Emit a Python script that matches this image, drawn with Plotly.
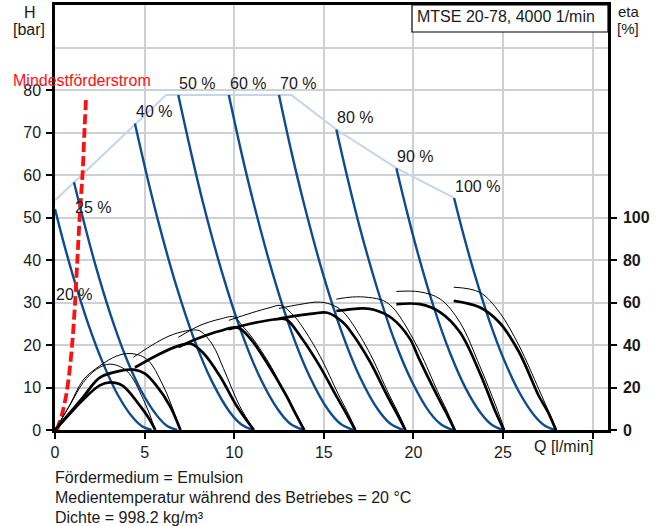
import plotly.graph_objects as go

# ---------------- data ----------------
labels = ["20 %", "25 %", "40 %", "50 %", "60 %", "70 %", "80 %", "90 %", "100 %"]

# H-Q curves  (Q in l/min, H in bar)
head_q = [
    [0.00, 0.54, 1.08, 1.89, 2.70, 3.50, 4.31, 4.85, 5.39],
    [1.06, 1.64, 2.21, 3.08, 3.94, 4.80, 5.67, 6.24, 6.82],
    [4.46, 5.12, 5.78, 6.77, 7.76, 8.75, 9.74, 10.40, 11.06],
    [6.88, 7.58, 8.27, 9.32, 10.37, 11.41, 12.46, 13.15, 13.85],
    [9.70, 10.39, 11.09, 12.13, 13.17, 14.21, 15.25, 15.95, 16.64],
    [12.50, 13.19, 13.89, 14.93, 15.97, 17.00, 18.04, 18.74, 19.43],
    [15.70, 16.35, 17.00, 17.98, 18.95, 19.93, 20.90, 21.55, 22.20],
    [19.05, 19.65, 20.24, 21.13, 22.03, 22.92, 23.81, 24.41, 25.00],
    [22.27, 22.83, 23.40, 24.24, 25.09, 25.93, 26.77, 27.34, 27.90],
]
head_h = [
    [52.0, 43.2, 35.2, 24.5, 15.5, 8.3, 3.1, 0.9, 0],
    [58.3, 48.5, 39.5, 27.4, 17.3, 9.3, 3.5, 1.0, 0],
    [72.1, 60.0, 48.8, 33.9, 21.4, 11.5, 4.3, 1.3, 0],
    [78.8, 65.5, 53.3, 37.1, 23.4, 12.6, 4.7, 1.4, 0],
    [78.8, 65.5, 53.3, 37.1, 23.4, 12.6, 4.7, 1.4, 0],
    [78.8, 65.5, 53.3, 37.1, 23.4, 12.6, 4.7, 1.4, 0],
    [70.7, 58.8, 47.8, 33.3, 21.0, 11.3, 4.2, 1.3, 0],
    [61.6, 51.2, 41.7, 29.0, 18.3, 9.8, 3.7, 1.1, 0],
    [54.6, 45.4, 36.9, 25.7, 16.2, 8.7, 3.3, 1.0, 0],
]

# efficiency curves (eta in %), thick line
eta_thick_q = [
    [0, 0.8, 1.58, 2.5, 3.07, 3.6, 4.0, 4.74, 5.2, 5.6],
    [0, 0.8, 1.58, 2.5, 3.63, 4.4, 5.0, 5.67, 6.41, 7.0],
    [4.46, 5.7, 6.88, 7.6, 8.3, 9.2, 10.13, 11.1],
    [6.88, 8.0, 9.2, 10.2, 10.9, 11.8, 12.92, 13.4, 13.9],
    [9.7, 10.9, 12.2, 12.9, 13.75, 14.75, 15.75, 16.25, 16.75],
    [12.5, 13.5, 14.4, 15.2, 16.05, 16.55, 17.55, 18.55, 19.05, 19.55],
    [15.7, 16.45, 17.2, 17.8, 18.8, 19.8, 20.3, 21.3, 21.8, 22.3],
    [19.05, 20.36, 21.5, 22.6, 23.7, 24.6, 25.05],
    [22.25, 23.7, 24.8, 25.9, 27.0, 27.5, 27.95],
]
eta_thick = [
    [0, 7.4, 14.4, 21, 22.4, 21.6, 19.2, 11.4, 6, 0],
    [0, 7.8, 15.6, 24.6, 27.8, 28.4, 26.6, 20.8, 11.4, 0],
    [29.4, 35.2, 39.6, 40.6, 36, 25.4, 11.4, 0],
    [39, 43.2, 46.6, 48.2, 43, 32, 16, 8, 0],
    [47.4, 50, 52, 52, 43.4, 30.4, 15.2, 7.8, 0],
    [52.4, 53.8, 54.8, 55.2, 50.8, 45.8, 32.6, 16, 8.2, 0],
    [56, 56.8, 57.2, 56.6, 52.6, 43, 33.8, 16.6, 8.6, 0],
    [59.2, 59.2, 55.4, 46, 27, 8.2, 0],
    [60.8, 57.8, 50.6, 36.6, 16, 8.6, 0],
]

# efficiency curves (eta in %), thin line
eta_thin_q = [
    [0, 0.8, 1.58, 2.32, 3.07, 4.0, 4.93, 5.6],
    [0, 0.8, 1.58, 2.5, 3.44, 4.18, 5.11, 6.04, 7.0],
    [4.37, 5.67, 6.6, 7.6, 8.09, 8.8, 9.4, 10.3, 11.1],
    [6.88, 8.09, 9.2, 10.0, 10.45, 10.9, 11.95, 12.95, 13.45, 13.95],
    [9.7, 11.0, 12.0, 12.6, 13.3, 13.8, 14.8, 15.8, 16.3, 16.8],
    [12.5, 13.6, 14.8, 15.6, 16.1, 16.6, 17.6, 18.6, 19.1, 19.6],
    [15.7, 16.6, 17.5, 18.35, 18.85, 19.35, 20.35, 21.35, 21.85, 22.35],
    [19.05, 20.36, 21.5, 22.6, 23.7, 24.6, 25.1],
    [22.25, 23.7, 24.8, 25.9, 27.0, 27.5, 28.0],
]
eta_thin = [
    [0, 11.2, 22.4, 28.6, 31, 27.8, 14.4, 0],
    [0, 11.4, 23.6, 30.2, 34.8, 36, 33.4, 20.8, 0],
    [34.2, 41.2, 45, 47, 46.6, 40, 29, 11.4, 0],
    [43.6, 49.2, 52.2, 53.2, 49, 44.6, 31.4, 15.4, 8, 0],
    [51.6, 55.2, 57.6, 58.6, 54, 48.6, 34.6, 17, 8.8, 0],
    [57.2, 59, 60.2, 58.4, 55.4, 50, 35.6, 17.4, 9, 0],
    [61.6, 62.6, 62.4, 60.8, 57.6, 52, 37, 18.2, 9.4, 0],
    [65.2, 65, 61.6, 50.6, 30.2, 11.4, 0],
    [67.2, 64.8, 55.4, 39.6, 19.2, 9.6, 0],
]

# limit line (envelope of the curve tops)
env_q = [0, 6.2, 13.2, 15.7, 19.05, 22.27]
env_h = [54.0, 78.8, 78.8, 70.7, 61.6, 54.6]

# minimum flow line
min_q = [0.1, 0.37, 0.65, 0.84, 0.98, 1.12, 1.25, 1.39, 1.54, 1.64, 1.73]
min_h = [0, 3.3, 8.8, 15, 21.3, 30, 40.2, 51.1, 60.5, 70, 77.8]

x_ticks = [0, 5, 10, 15, 20, 25, 30]
x_ticktext = ["0", "5", "10", "15", "20", "25", ""]
h_ticks = [0, 10, 20, 30, 40, 50, 60, 70, 80]
eta_ticks = [0, 20, 40, 60, 80, 100]

title_box = "MTSE 20-78, 4000 1/min"
notes = ["Fördermedium = Emulsion",
         "Medientemperatur während des Betriebes = 20 °C",
         "Dichte = 998.2 kg/m³"]

# ---------------- style / layout ----------------
W, Hh = 656, 526
L, R, T, B = 55, 608, 5, 430
X_MAX = 30.86
H_MAX = 100.0
FONT = "Liberation Sans, Arial, sans-serif"
TXT = "#1a1a1a"
BLUE = "#0e4c8c"
ENV = "#c5d6e8"
GRID = "#cdd1d6"


def px(x):
    return (x - L) / (R - L)


def py(y):
    return (B - y) / (B - T)


fig = go.Figure()

fig.add_trace(go.Scatter(x=env_q, y=env_h, mode="lines",
                         line=dict(color=ENV, width=2), hoverinfo="skip"))

for q, h in zip(head_q, head_h):
    fig.add_trace(go.Scatter(x=q, y=h, mode="lines",
                             line=dict(color=BLUE, width=2.4, shape="spline", smoothing=1.0),
                             hoverinfo="skip"))

for q, e in zip(eta_thin_q, eta_thin):
    fig.add_trace(go.Scatter(x=q, y=e, yaxis="y2", mode="lines",
                             line=dict(color="black", width=1.0, shape="spline", smoothing=1.0),
                             hoverinfo="skip"))

for q, e in zip(eta_thick_q, eta_thick):
    fig.add_trace(go.Scatter(x=q, y=e, yaxis="y2", mode="lines",
                             line=dict(color="black", width=2.7, shape="spline", smoothing=1.0),
                             hoverinfo="skip"))

fig.add_trace(go.Scatter(x=min_q, y=min_h, mode="lines",
                         line=dict(color="#ff1010", width=3.8, dash="10px,4px",
                                   shape="spline", smoothing=0.8),
                         hoverinfo="skip"))

ann = []
# curve labels: anchored at the top point of each H-Q curve
for i, lab in enumerate(labels):
    if i == 0:
        ax, ay = 0.0, 31.9
    elif i == 1:
        ax, ay = head_q[1][0], 52.4
    else:
        ax, ay = head_q[i][0], head_h[i][0] + 2.8
    ann.append(dict(x=ax, y=ay, xref="x", yref="y", text=lab, showarrow=False,
                    xanchor="left", yanchor="middle", borderpad=0,
                    font=dict(family=FONT, size=16, color=TXT)))

ann.append(dict(x=px(11), y=py(80), xref="paper", yref="paper", text="Mindestförderstrom",
                showarrow=False, xanchor="left", yanchor="middle",
                font=dict(family=FONT, size=16, color="#ff1010")))
ann.append(dict(x=px(29.5), y=py(13), xref="paper", yref="paper", text="H",
                showarrow=False, xanchor="center", yanchor="middle",
                font=dict(family=FONT, size=16, color=TXT)))
ann.append(dict(x=px(29), y=py(29), xref="paper", yref="paper", text="[bar]",
                showarrow=False, xanchor="center", yanchor="middle",
                font=dict(family=FONT, size=16, color=TXT)))
ann.append(dict(x=px(629), y=py(11), xref="paper", yref="paper", text="eta",
                showarrow=False, xanchor="center", yanchor="middle",
                font=dict(family=FONT, size=15, color=TXT)))
ann.append(dict(x=px(628), y=py(28.5), xref="paper", yref="paper", text="[%]",
                showarrow=False, xanchor="center", yanchor="middle",
                font=dict(family=FONT, size=15, color=TXT)))
ann.append(dict(x=px(596), y=py(446), xref="paper", yref="paper", text="Q [l/min]",
                showarrow=False, xanchor="right", yanchor="middle",
                font=dict(family=FONT, size=16, color=TXT)))
ann.append(dict(x=px(415), y=py(17), xref="paper", yref="paper", text=title_box,
                showarrow=False, xanchor="left", yanchor="middle",
                font=dict(family=FONT, size=16, color=TXT)))
for k, line in enumerate(notes):
    ann.append(dict(x=px(53), y=py(477 + 20 * k), xref="paper", yref="paper", text=line,
                    showarrow=False, xanchor="left", yanchor="middle",
                    font=dict(family=FONT, size=16, color=TXT)))

shapes = [dict(type="rect", xref="paper", yref="paper",
               x0=px(412), x1=1.0, y0=py(32), y1=1.0,
               line=dict(color="black", width=1.2), fillcolor="white", layer="above")]

fig.update_layout(
    width=W, height=Hh,
    margin=dict(l=L, r=W - R, t=T, b=Hh - B, autoexpand=False),
    paper_bgcolor="white", plot_bgcolor="white",
    showlegend=False,
    font=dict(family=FONT, size=16, color=TXT),
    annotations=ann, shapes=shapes,
    xaxis=dict(range=[0, X_MAX], tickvals=x_ticks, ticktext=x_ticktext,
               automargin=False,
               showgrid=True, gridcolor=GRID, gridwidth=1.5, zeroline=False,
               showline=True, linecolor="black", linewidth=2.5, mirror=True,
               ticks="outside", ticklen=6, tickwidth=2, tickcolor="black",
               tickfont=dict(family=FONT, size=16, color=TXT)),
    yaxis=dict(range=[0, H_MAX], tickvals=h_ticks, automargin=False,
               showgrid=True, gridcolor=GRID, gridwidth=1.5, zeroline=False,
               showline=True, linecolor="black", linewidth=2.5, mirror=True,
               ticks="outside", ticklen=6, tickwidth=2, tickcolor="black",
               ticklabelstandoff=2,
               minor=dict(tickvals=[90, 100], showgrid=True, gridcolor=GRID,
                          gridwidth=1.5, ticks=""),
               tickfont=dict(family=FONT, size=16, color=TXT)),
    yaxis2=dict(range=[0, 2 * H_MAX], overlaying="y", side="right", automargin=False,
                tickvals=eta_ticks, showgrid=False, zeroline=False,
                showline=True, linecolor="black", linewidth=2.5,
                ticks="outside", ticklen=6, tickwidth=2, tickcolor="black",
                ticklabelstandoff=3,
                tickfont=dict(family=FONT, size=16, color=TXT, weight="bold")),
)

# remove the browser's default 8px page margin so the figure starts at the window corner
fig.write_html("out.html",
               config={"displayModeBar": False},
               post_script="document.body.style.margin='0px';document.body.style.padding='0px';")
